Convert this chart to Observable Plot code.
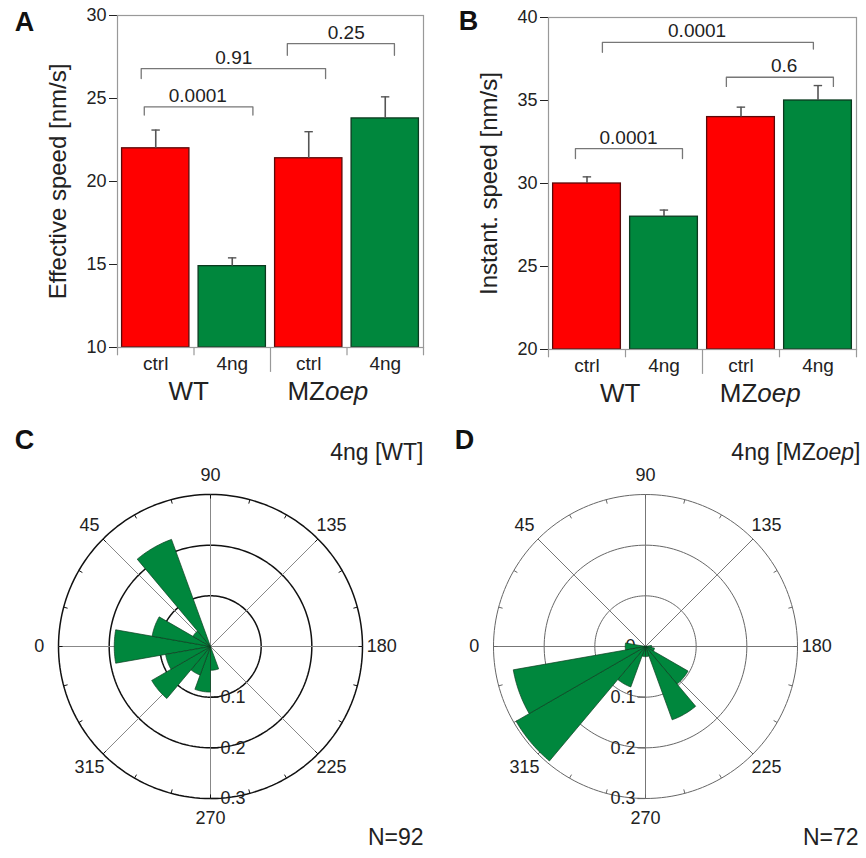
<!DOCTYPE html>
<html><head><meta charset="utf-8">
<script src="https://cdn.jsdelivr.net/npm/d3@7"></script>
<script src="https://cdn.jsdelivr.net/npm/@observablehq/plot@0.6"></script>
<style>
body{margin:0;background:#fff;}
#wrap{position:relative;width:866px;height:858px;background:#fff;}
.panel{position:absolute;}
</style></head><body><div id="wrap"></div>
<script>
// ---------- data ----------
const groups = ["WT", "MZoep"];
const groupLabelX = [0.43, 2.25];
const treatments = ["ctrl", "4ng", "ctrl", "4ng"];
const barColors = ["#ff0000", "#00873d", "#ff0000", "#00873d"];
const barEdges = ["#5a0a0a", "#0b3a1f", "#5a0a0a", "#0b3a1f"];

const effSpeed = [22.0, 14.9, 21.4, 23.8];
const effErr = [1.1, 0.5, 1.6, 1.3];
const effTicks = [10, 15, 20, 25, 30];
const effBrLabels = ["0.0001", "0.91", "0.25"];
const effBrFrom = [-0.15, -0.19, 1.72];
const effBrTo = [1.27, 2.22, 3.12];
const effBrY = [24.5, 26.8, 28.3];
const effBrTipL = [24.0, 26.2, 27.6];
const effBrTipR = [24.0, 26.2, 27.6];
const effBrLabelX = [0.55, 1.02, 2.49];

const instSpeed = [30.0, 28.0, 34.0, 35.0];
const instErr = [0.4, 0.4, 0.6, 0.9];
const instTicks = [20, 25, 30, 35, 40];
const instBrLabels = ["0.0001", "0.0001", "0.6"];
const instBrFrom = [-0.15, 0.2, 1.81];
const instBrTo = [1.24, 2.94, 3.2];
const instBrY = [32.1, 38.5, 36.4];
const instBrTipL = [31.5, 37.9, 35.85];
const instBrTipR = [31.5, 38.1, 35.85];
const instBrLabelX = [0.54, 1.43, 2.56];

const roseBinCenters = [0, 20, 40, 60, 80, 100, 120, 140, 160, 180, 200, 220, 240, 260, 280, 300, 320, 340];
const roseBinWidth = 20;
const roseWT = [0.19, 0.117, 0.04, 0.225, 0, 0, 0, 0, 0, 0, 0, 0, 0, 0.047, 0.09, 0.06, 0.134, 0.09];
const roseMZ = [0.04, 0, 0, 0, 0, 0, 0, 0, 0, 0.012, 0.018, 0.097, 0.154, 0.02, 0.02, 0.085, 0.295, 0.265];
const angleTicks = [0, 45, 90, 135, 180, 225, 270, 315];
const radialTicks = [0.1, 0.2, 0.3];

const FONT = "Liberation Sans, Arial, Helvetica, sans-serif";
const GREEN = "#00873d";

function italicizeOep(svg) {
  const walker = document.createTreeWalker(svg, NodeFilter.SHOW_TEXT);
  const nodes = [];
  while (walker.nextNode()) if (walker.currentNode.nodeValue.includes("MZoep")) nodes.push(walker.currentNode);
  const NS = "http://www.w3.org/2000/svg";
  for (const n of nodes) {
    const [a, b] = n.nodeValue.split("oep");
    const frag = document.createDocumentFragment();
    const t1 = document.createElementNS(NS, "tspan"); t1.textContent = a;
    const t2 = document.createElementNS(NS, "tspan"); t2.textContent = "oep"; t2.setAttribute("font-style", "italic");
    frag.append(t1, t2);
    if (b) { const t3 = document.createElementNS(NS, "tspan"); t3.textContent = b; frag.append(t3); }
    n.parentNode.replaceChild(frag, n);
  }
}

function place(el, left, top) {
  const d = document.createElement("div");
  d.className = "panel";
  d.style.left = left + "px"; d.style.top = top + "px";
  d.append(el);
  document.getElementById("wrap").append(d);
  italicizeOep(el);
}

// ---------- bar panels ----------
function barPanel(o) {
  const data = o.values.map((v, i) => ({i, v, e: o.errs[i], t: treatments[i], c: barColors[i], s: barEdges[i]}));
  const br = o.brLabels.map((l, j) => ({j, label: l, from: o.brFrom[j], to: o.brTo[j], y: o.brY[j], tl: o.brTipL[j], tr: o.brTipR[j], lx: o.brLabelX[j]}));
  const brPts = br.flatMap(b => [
    {j: b.j, x: b.from, y: b.tl}, {j: b.j, x: b.from, y: b.y},
    {j: b.j, x: b.to, y: b.y}, {j: b.j, x: b.to, y: b.tr}
  ]);
  const y0 = o.ticks[0], y1 = o.ticks[o.ticks.length - 1];
  const bounds = [-0.5, 0.5, 1.5, 2.5, 3.5];
  const gl = groups.map((g, k) => ({g, x: groupLabelX[k]}));
  return Plot.plot({
    width: o.width, height: 410,
    marginLeft: o.ml, marginRight: o.mr, marginTop: o.mt, marginBottom: 410 - o.bottom,
    style: {fontFamily: FONT, fontSize: "18px", color: "#222", background: "white", overflow: "visible"},
    x: {domain: [-0.5, 3.5], axis: null},
    y: {domain: [y0, y1], ticks: o.ticks, tickSize: 8, tickPadding: 3, label: null, tickFormat: d => String(d)},
    color: {type: "identity"},
    marks: [
      Plot.rectY(data, {x1: d => d.i - 0.44, x2: d => d.i + 0.44, y1: y0, y2: "v", fill: "c", stroke: "s", strokeWidth: 1.3}),
      Plot.ruleX(data, {x: "i", y1: "v", y2: d => d.v + d.e, stroke: "#555", strokeWidth: 1.6}),
      Plot.ruleY(data, {y: d => d.v + d.e, x1: d => d.i - 0.05, x2: d => d.i + 0.06, stroke: "#555", strokeWidth: 1.4}),
      Plot.frame({stroke: "#999", strokeWidth: 1.2}),
      Plot.ruleX(bounds, {x: d => d, y1: y0, y2: d => y0 - (d === 1.5 ? 1.5 : 0.5), stroke: "#999", strokeWidth: 1.2}),
      Plot.line(brPts, {x: "x", y: "y", z: "j", stroke: "#777", strokeWidth: 1.3}),
      Plot.text(br, {x: "lx", y: "y", text: "label", dy: -11, fontSize: 19, fill: "#222"}),
      Plot.text(data, {x: "i", y: y0, text: "t", dy: 16, fontSize: 19, fill: "#222"}),
      Plot.text(gl, {x: "x", y: y0, text: "g", dy: 44, fontSize: 26, fill: "#222"}),
      Plot.text([o.yLabel], {frameAnchor: "left", textAnchor: "middle", lineAnchor: "middle", rotate: -90, dx: o.ylDx, fontSize: 24, fill: "#222"}),
      Plot.text([o.letter], {frameAnchor: "top-left", textAnchor: "middle", lineAnchor: "middle", dx: o.letDx, dy: o.letDy, fontSize: 27, fontWeight: "bold", fill: "#111"})
    ]
  });
}

place(barPanel({
  values: effSpeed, errs: effErr, ticks: effTicks, yLabel: "Effective speed [nm/s]", letter: "A",
  brLabels: effBrLabels, brFrom: effBrFrom, brTo: effBrTo, brY: effBrY, brTipL: effBrTipL, brTipR: effBrTipR, brLabelX: effBrLabelX,
  width: 430, ml: 117, mr: 7, mt: 15, bottom: 347, ylDx: -59, letDx: -93, letDy: 7
}), 0, 0);

place(barPanel({
  values: instSpeed, errs: instErr, ticks: instTicks, yLabel: "Instant. speed [nm/s]", letter: "B",
  brLabels: instBrLabels, brFrom: instBrFrom, brTo: instBrTo, brY: instBrY, brTipL: instBrTipL, brTipR: instBrTipR, brLabelX: instBrLabelX,
  width: 436, ml: 118, mr: 10, mt: 17, bottom: 349, ylDx: -59, letDx: -80, letDy: 4
}), 430, 0);

// ---------- rose panels ----------
function pol(theta, r) {
  const a = theta * Math.PI / 180;
  return {x: -r * Math.cos(a), y: r * Math.sin(a)};
}

function rosePanel(o) {
  const W = o.width, H = 438, cx = o.cx, cy = 226, k = 152 / 0.3;
  const circles = radialTicks.flatMap(r => d3.range(0, 361, 2).map(a => ({r, ...pol(a, r)})));
  const spokes = angleTicks.map(a => ({a, ...pol(a, 0.3)}));
  const outerTicks = d3.range(0, 360, 15).map(a => {
    const p = pol(a, 0.3), q = pol(a, 0.292);
    return {x1: p.x, y1: p.y, x2: q.x, y2: q.y};
  });
  const petals = roseBinCenters.flatMap((c, i) => {
    const r = o.freq[i];
    if (!r) return [];
    const pts = [{i, x: 0, y: 0}];
    for (let a = c - roseBinWidth / 2; a <= c + roseBinWidth / 2 + 1e-9; a += 1) pts.push({i, ...pol(a, r)});
    pts.push({i, x: 0, y: 0});
    return pts;
  });
  const aLabels = angleTicks.map(a => ({a, ...pol(a, 0.338)}));
  const rLabels = o.radialLabels.map(r => ({r, x: 0, y: -r}));
  const side = o.side; // +1 right, -1 left
  return Plot.plot({
    width: W, height: H, margin: 0,
    style: {fontFamily: FONT, fontSize: "18px", color: "#222", background: "white", overflow: "visible"},
    x: {domain: [-cx / k, (W - cx) / k], axis: null},
    y: {domain: [-(H - cy) / k, cy / k], axis: null},
    marks: [
      Plot.line(circles, {x: "x", y: "y", z: "r", stroke: o.circleStroke, strokeWidth: o.circleWidth}),
      Plot.link(spokes, {x1: 0, y1: 0, x2: "x", y2: "y", stroke: o.spokeStroke, strokeWidth: 1}),
      Plot.link(outerTicks, {x1: "x1", y1: "y1", x2: "x2", y2: "y2", stroke: o.circleStroke, strokeWidth: 1}),
      Plot.link(rLabels, {x1: 0, y1: "y", x2: 8 / k * side, y2: "y", stroke: o.circleStroke, strokeWidth: 1.2}),
      Plot.text(rLabels, {x: "x", y: "y", text: d => String(d.r), dx: side * 10, textAnchor: side > 0 ? "start" : "end", fontSize: 18, fill: "#222"}),
      Plot.line(petals, {x: "x", y: "y", z: "i", fill: GREEN, stroke: "#0b3d20", strokeWidth: 0.7, curve: "linear"}),
      Plot.text(aLabels, {x: "x", y: "y", text: d => String(d.a), fontSize: 18, fill: "#222"}),
      Plot.text([o.title], {frameAnchor: "top-right", textAnchor: "end", lineAnchor: "middle", dx: o.titleDx, dy: 32, fontSize: 23, fill: "#222"}),
      Plot.text([o.nLabel], {frameAnchor: "bottom-right", textAnchor: "end", lineAnchor: "middle", dx: o.nDx, dy: -21, fontSize: 23, fill: "#222"}),
      Plot.text([o.letter], {frameAnchor: "top-left", textAnchor: "middle", lineAnchor: "middle", dx: o.letX, dy: 20, fontSize: 27, fontWeight: "bold", fill: "#111"})
    ]
  });
}

place(rosePanel({
  freq: roseWT, width: 430, cx: 210, side: 1, radialLabels: [0.1, 0.2, 0.3],
  circleStroke: "#111", circleWidth: 1.5, spokeStroke: "#888",
  title: "4ng [WT]", nLabel: "N=92", letter: "C", titleDx: -7, nDx: -7, letX: 24
}), 0, 420);

place(rosePanel({
  freq: roseMZ, width: 436, cx: 215, side: -1, radialLabels: [0, 0.1, 0.2, 0.3],
  circleStroke: "#666", circleWidth: 1, spokeStroke: "#777",
  title: "4ng [MZoep]", nLabel: "N=72", letter: "D", titleDx: -6, nDx: -8, letX: 34
}), 430, 420);
</script>
</body></html>
